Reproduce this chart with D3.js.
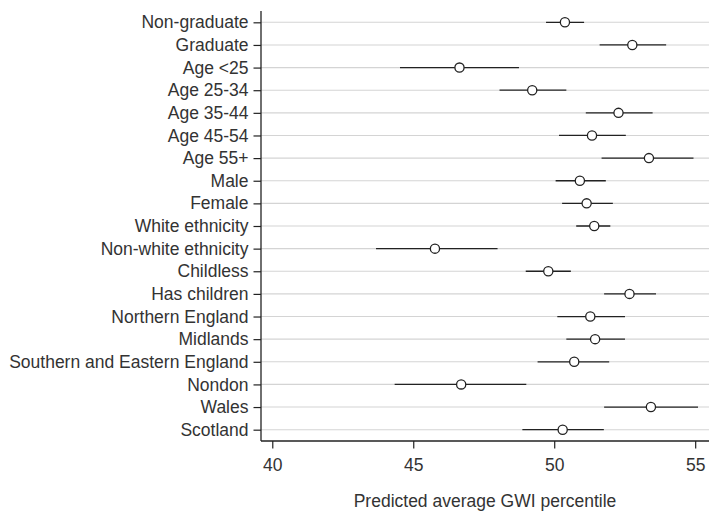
<!DOCTYPE html>
<html>
<head>
<meta charset="utf-8">
<script src="https://cdn.jsdelivr.net/npm/d3@7"></script>
<style>
  html, body { margin: 0; padding: 0; background: #fff; }
  svg { display: block; }
  text { font-family: "Liberation Sans", Arial, sans-serif; fill: #333; }
</style>
</head>
<body>
<svg id="chart" width="709" height="511"></svg>
<script>
const categories = ["Non-graduate","Graduate","Age <25","Age 25-34","Age 35-44","Age 45-54","Age 55+","Male","Female","White ethnicity","Non-white ethnicity","Childless","Has children","Northern England","Midlands","Southern and Eastern England","Nondon","Wales","Scotland"];
const estimates = [50.38,52.77,46.64,49.22,52.28,51.34,53.36,50.91,51.15,51.42,45.77,49.79,52.67,51.28,51.45,50.71,46.70,53.43,50.30];
const lower     = [49.71,51.61,44.53,48.06,51.12,50.17,51.68,50.05,50.28,50.78,43.68,48.99,51.77,50.11,50.43,49.41,44.34,51.77,48.87];
const upper     = [51.06,53.97,48.75,50.43,53.49,52.54,54.94,51.83,52.08,51.99,47.99,50.59,53.61,52.51,52.51,51.95,49.01,55.10,51.76];
const xTicks = [40,45,50,55];
const xTitle = "Predicted average GWI percentile";

const data = categories.map((c,i)=>({c, est:estimates[i], lo:lower[i], hi:upper[i]}));

const svg = d3.select("#chart");
const pLeft = 261, pRight = 709, pTop = 11, pBottom = 441;
const fs = 17.5;
const x = d3.scaleLinear().domain([39.6, 55.49]).range([pLeft, pRight]);
const y = d3.scalePoint().domain(categories).range([pTop, pBottom]).padding(0.5);

// gridlines
svg.append("g").selectAll("line").data(categories).join("line")
  .attr("x1", pLeft).attr("x2", pRight)
  .attr("y1", d=>y(d)).attr("y2", d=>y(d))
  .attr("stroke", "#d4d4d4").attr("stroke-width", 1.1);

// y axis
const yAxis = svg.append("g").attr("transform", `translate(${pLeft},0)`)
  .call(d3.axisLeft(y).tickSize(7.5).tickPadding(5));
yAxis.select(".domain").attr("d", `M0,${pTop}V${pBottom}`).attr("stroke", "#222").attr("stroke-width", 1.3);
yAxis.selectAll(".tick line").attr("stroke", "#222").attr("stroke-width", 1.2);
yAxis.selectAll(".tick text").attr("font-size", fs).attr("fill", "#333")
  .attr("font-family", "'Liberation Sans', Arial, sans-serif");

// x axis
const xAxis = svg.append("g").attr("transform", `translate(0,${pBottom})`)
  .call(d3.axisBottom(x).tickValues(xTicks).tickSize(7.5).tickPadding(10).tickFormat(d3.format("d")));
xAxis.select(".domain").attr("d", `M${pLeft},0H${pRight}`).attr("stroke", "#222").attr("stroke-width", 1.3);
xAxis.selectAll(".tick line").attr("stroke", "#222").attr("stroke-width", 1.2);
xAxis.selectAll(".tick text").attr("font-size", fs).attr("fill", "#333")
  .attr("font-family", "'Liberation Sans', Arial, sans-serif");

// x title
svg.append("text").attr("x", (pLeft+pRight)/2).attr("y", 506.5)
  .attr("text-anchor", "middle").attr("font-size", fs).text(xTitle);

// CI lines
svg.append("g").selectAll("line").data(data).join("line")
  .attr("x1", d=>x(d.lo)).attr("x2", d=>x(d.hi))
  .attr("y1", d=>y(d.c)).attr("y2", d=>y(d.c))
  .attr("stroke", "#222").attr("stroke-width", 1.3);

// points
svg.append("g").selectAll("circle").data(data).join("circle")
  .attr("cx", d=>x(d.est)).attr("cy", d=>y(d.c)).attr("r", 4.6)
  .attr("fill", "#fff").attr("stroke", "#222").attr("stroke-width", 1.3);
</script>
</body>
</html>
